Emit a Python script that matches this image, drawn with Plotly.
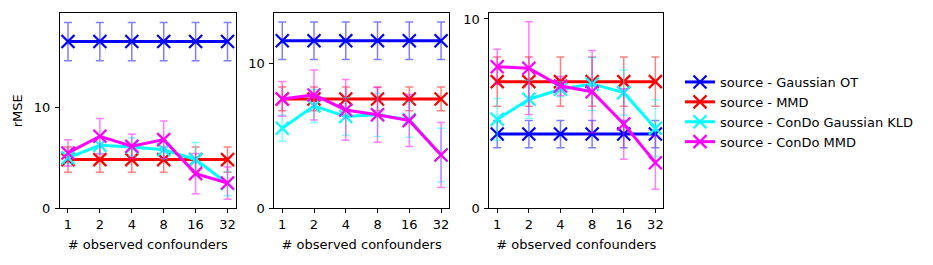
import plotly.graph_objects as go

categories = ["1", "2", "4", "8", "16", "32"]
series_names = ["source - Gaussian OT", "source - MMD", "source - ConDo Gaussian KLD", "source - ConDo MMD"]
series_colors = ["rgb(0,0,255)", "rgb(255,0,0)", "rgb(0,255,255)", "rgb(255,0,255)"]
error_colors = ["rgba(0,0,255,0.5)", "rgba(255,0,0,0.5)", "rgba(0,255,255,0.5)", "rgba(255,0,255,0.5)"]

# panel 1
p1_ot = [16.5, 16.5, 16.5, 16.5, 16.5, 16.5]
p1_ot_err = [1.9, 1.9, 1.9, 1.9, 1.9, 1.9]
p1_mmd = [4.82, 4.82, 4.82, 4.82, 4.82, 4.82]
p1_mmd_err = [1.25, 1.25, 1.25, 1.25, 1.25, 1.25]
p1_kld = [5.0, 6.24, 6.07, 5.8, 4.82, 2.45]
p1_kld_err = [0.6, 0.8, 0.9, 0.9, 1.7, 1.2]
p1_cmmd = [5.48, 7.13, 6.14, 6.8, 3.43, 2.5]
p1_cmmd_err = [1.3, 1.75, 1.2, 1.85, 2.0, 1.6]

# panel 2
p2_ot = [11.6, 11.6, 11.6, 11.6, 11.6, 11.6]
p2_ot_err = [1.3, 1.3, 1.3, 1.3, 1.3, 1.3]
p2_mmd = [7.57, 7.57, 7.57, 7.57, 7.57, 7.57]
p2_mmd_err = [0.82, 0.82, 0.82, 0.82, 0.82, 0.82]
p2_kld = [5.54, 7.09, 6.35, 6.47, 6.12, 3.69]
p2_kld_err = [0.9, 1.15, 1.3, 1.5, 1.2, 1.85]
p2_cmmd = [7.57, 7.85, 6.81, 6.47, 6.07, 3.69]
p2_cmmd_err = [1.2, 1.73, 2.1, 1.9, 1.8, 2.25]

# panel 3
p3_ot = [3.92, 3.92, 3.92, 3.92, 3.92, 3.92]
p3_ot_err = [0.72, 0.72, 0.72, 0.72, 0.72, 0.72]
p3_mmd = [6.69, 6.69, 6.69, 6.69, 6.69, 6.69]
p3_mmd_err = [1.3, 1.3, 1.3, 1.3, 1.3, 1.3]
p3_kld = [4.7, 5.76, 6.29, 6.57, 6.11, 4.23]
p3_kld_err = [1.1, 1.0, 0.4, 1.4, 1.2, 1.5]
p3_cmmd = [7.48, 7.4, 6.46, 6.16, 4.45, 2.41]
p3_cmmd_err = [0.92, 2.45, 0.5, 2.17, 1.86, 1.4]

panels = [
    [(p1_ot, p1_ot_err), (p1_mmd, p1_mmd_err), (p1_kld, p1_kld_err), (p1_cmmd, p1_cmmd_err)],
    [(p2_ot, p2_ot_err), (p2_mmd, p2_mmd_err), (p2_kld, p2_kld_err), (p2_cmmd, p2_cmmd_err)],
    [(p3_ot, p3_ot_err), (p3_mmd, p3_mmd_err), (p3_kld, p3_kld_err), (p3_cmmd, p3_cmmd_err)],
]
y_tops = [19.3, 13.5, 10.3]

# page body has an 8px margin, so figure coordinates are page coordinates minus 8
W, H = 925, 257
x_px = [(52, 227.5), (266.3, 441), (481.3, 655.3)]
y_px = (5.3, 200.3)
FONT = "DejaVu Sans"
FS = 13

fig = go.Figure()
for pi, panel in enumerate(panels):
    for si, (vals, errs) in enumerate(panel):
        fig.add_trace(go.Scatter(
            x=categories, y=vals,
            mode="lines+markers",
            name=series_names[si],
            showlegend=(pi == 0),
            legendgroup=series_names[si],
            line=dict(color=series_colors[si], width=3),
            marker=dict(symbol="x-thin", size=13, line=dict(color=series_colors[si], width=2.2), color=series_colors[si]),
            error_y=dict(type="data", array=errs, visible=True, color=error_colors[si], thickness=1.5, width=4),
            xaxis="x" if pi == 0 else f"x{pi+1}",
            yaxis="y" if pi == 0 else f"y{pi+1}",
        ))

layout = dict(
    width=W, height=H,
    margin=dict(l=0, r=0, t=0, b=0, autoexpand=False),
    paper_bgcolor="white", plot_bgcolor="white",
    font=dict(family=FONT, size=FS, color="black"),
    legend=dict(x=672 / W, y=1 - 59 / H, xanchor="left", yanchor="top",
                font=dict(family=FONT, size=FS), tracegroupgap=0, itemwidth=30,
                bgcolor="rgba(0,0,0,0)"),
    showlegend=True,
)
for pi in range(3):
    xa = "xaxis" if pi == 0 else f"xaxis{pi+1}"
    ya = "yaxis" if pi == 0 else f"yaxis{pi+1}"
    xs = "x" if pi == 0 else f"x{pi+1}"
    ys = "y" if pi == 0 else f"y{pi+1}"
    layout[xa] = dict(
        domain=[x_px[pi][0] / W, x_px[pi][1] / W],
        anchor=ys, type="category", range=[-0.25, 5.25],
        showline=True, linecolor="black", linewidth=1, mirror=True,
        showgrid=False, zeroline=False, automargin=False,
        ticks="outside", ticklen=4, tickcolor="black", ticklabelstandoff=0,
        tickfont=dict(family=FONT, size=FS),
        title=dict(text="# observed confounders", font=dict(family=FONT, size=FS), standoff=8),
    )
    layout[ya] = dict(
        domain=[1 - y_px[1] / H, 1 - y_px[0] / H],
        anchor=xs, range=[0, y_tops[pi]],
        tickvals=[0, 10], ticktext=["0", "10"],
        showline=True, linecolor="black", linewidth=1, mirror=True,
        showgrid=False, zeroline=False, automargin=False,
        ticks="outside", ticklen=4, tickcolor="black", ticklabelstandoff=2,
        tickfont=dict(family=FONT, size=FS),
        title=dict(text="rMSE" if pi == 0 else "", font=dict(family=FONT, size=FS), standoff=8),
    )
fig.update_layout(**layout)
fig.write_html("out.html")
